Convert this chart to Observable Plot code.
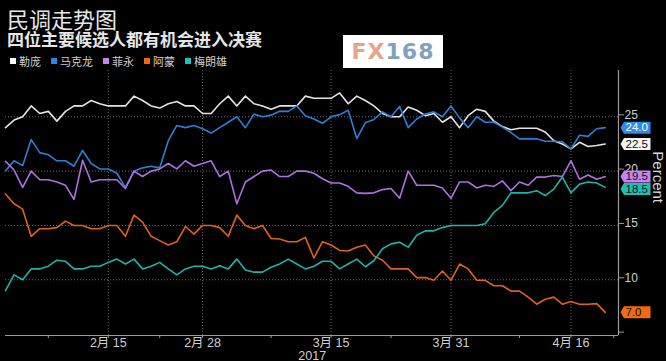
<!DOCTYPE html>
<html>
<head>
<meta charset="utf-8">
<script src="https://cdn.jsdelivr.net/npm/d3@7"></script>
<script src="https://cdn.jsdelivr.net/npm/@observablehq/plot@0.6"></script>
<style>
  html, body { margin: 0; padding: 0; background: #000; }
  #wrap { position: relative; width: 666px; height: 361px; overflow: hidden; background: #000; }
  #header { position: relative; height: 66px; }
  #title { position: absolute; left: 7px; top: 7px; font: 400 22px/22px "Noto Sans CJK SC", sans-serif; color: #e6e6e6; white-space: nowrap; }
  #subtitle { position: absolute; left: 7px; top: 30px; font: 700 17px/17px "Noto Sans CJK SC", sans-serif; color: #e6e6e6; white-space: nowrap; }
  #legend { position: absolute; left: 10px; top: 54px; display: flex; font: 400 11px/14px "Noto Sans CJK SC", sans-serif; color: #cfcfcf; white-space: nowrap; }
  #legend .item { display: flex; align-items: center; margin-right: 10px; }
  #legend .sw { width: 6px; height: 6px; margin-right: 3px; }
  #logo { position: absolute; left: 343px; top: 35px; width: 100px; height: 33px; background: #fff; display: flex; align-items: center; justify-content: center; font: 700 22px/22px "DejaVu Sans", sans-serif; letter-spacing: 1px; }
  #chart svg { display: block; }
</style>
</head>
<body>
<div id="wrap">
  <div id="header">
    <div id="title"></div>
    <div id="subtitle"></div>
    <div id="legend"></div>
    <div id="logo"><span style="color:#e9a58b">FX</span><span style="color:#7fa2c0">168</span></div>
  </div>
  <div id="chart"></div>
</div>
<script>
// ---- text ----
const titleText = "民调走势图";
const subtitleText = "四位主要候选人都有机会进入决赛";
const yLabel = "Percent";

// ---- series (one value per poll, in order) ----
const names = ["勒庞", "马克龙", "菲永", "阿蒙", "梅朗雄"];
const lePen = [24.0,24.7,25.0,26.0,25.3,25.5,24.6,25.5,26.0,26.0,
  26.5,26.2,26.0,26.0,26.0,26.9,26.5,26.0,25.8,26.2,
  26.4,26.0,26.0,25.3,25.3,26.2,26.9,26.0,26.9,26.2,
  26.0,25.7,26.0,26.0,26.0,26.9,26.7,26.7,26.7,27.2,
  26.2,26.9,26.5,26.0,25.3,25.0,25.0,25.9,25.6,25.1,
  25.3,24.5,25.0,24.0,25.1,25.7,25.5,24.6,24.1,23.8,
  23.95,23.95,23.95,23.6,22.8,22.5,22.05,22.65,22.27,22.36,22.5];
const macron = [20.0,20.95,20.5,22.9,21.7,21.5,20.95,20.95,20.45,21.9,
  20.7,20.2,20.2,19.8,18.5,20.0,20.3,20.45,20.3,22.8,
  24.2,24.0,24.2,23.9,23.5,24.0,24.5,25.0,24.0,25.25,
  25.0,25.15,25.5,25.5,26.0,25.1,24.8,24.4,25.0,25.2,
  25.6,23.0,24.45,24.75,25.45,25.0,25.95,24.0,24.8,25.25,
  25.45,25.0,26.0,24.9,24.0,25.0,24.5,24.5,24.05,23.55,
  22.97,22.97,22.97,22.75,22.75,22.7,22.05,23.3,23.2,23.9,24.0];
const fillon = [20.9,20.1,18.5,20.0,19.2,19.2,19.0,18.7,17.4,21.0,
  19.0,19.2,19.2,19.2,18.4,20.0,19.5,20.0,20.2,20.7,
  20.2,20.95,20.45,20.7,20.95,19.5,20.0,17.0,19.0,19.5,
  20.0,20.1,19.5,19.5,20.0,20.0,19.8,19.3,18.9,18.9,
  18.6,18.0,17.95,18.0,18.3,18.4,17.5,20.0,18.7,18.7,
  18.7,18.45,17.5,19.0,19.0,18.45,18.7,18.6,19.1,18.2,
  19.0,18.7,19.45,19.45,19.6,19.5,20.95,19.25,19.65,19.25,19.5];
const hamon = [17.9,17.0,16.5,14.0,14.7,14.7,14.8,15.4,15.0,15.0,
  14.7,14.7,15.0,15.0,14.0,15.95,15.3,14.0,13.6,13.2,
  13.5,14.9,14.2,15.0,15.0,14.8,14.0,15.95,15.0,14.7,
  15.0,13.8,13.75,13.5,13.5,13.9,12.0,13.5,13.2,12.7,
  12.65,13.0,13.2,12.2,11.8,11.0,11.0,11.0,10.2,10.2,
  9.95,10.8,9.95,11.45,11.0,9.95,9.95,9.45,9.45,8.95,
  8.95,8.4,7.75,8.2,8.4,7.75,8.0,7.75,7.75,7.8,7.0];
const melenchon = [9.0,10.45,10.0,11.0,11.0,11.25,11.8,11.7,11.0,11.0,
  11.25,11.25,11.6,11.9,11.45,11.9,11.0,11.25,11.6,11.0,
  10.45,11.0,11.25,11.25,11.0,11.3,11.0,11.9,10.9,10.7,
  10.7,11.15,11.45,11.9,11.45,11.0,11.25,11.7,11.7,11.0,
  11.45,11.9,11.2,11.75,12.85,13.3,13.45,13.0,14.1,14.5,
  14.5,14.8,15.0,15.0,15.0,15.0,15.15,16.2,16.85,18.0,
  18.0,18.0,18.2,17.75,18.35,19.45,18.0,18.8,19.0,18.9,18.5];

// ---- ticks (positions are poll indices) ----
const xTickPos = [12, 23, 38, 52, 66];
const xTickLabels = ["2月 15", "2月 28", "3月 15", "3月 31", "4月 16"];
const xMinorPos = [5, 18, 31, 45, 60, 71];
const yearLabels = ["2017"];
const yearPos = [35.8];
const yTicks = [5, 10, 15, 20, 25];

// ---- styles ----
const lineColors = ["#e4e4e4", "#2d7fd6", "#b06fe2", "#e0611b", "#1fb2aa"];
const legendColors = ["#ffffff", "#2f86e6", "#c383f2", "#f2661a", "#1fc0c0"];
const tagColors = ["#f4f4f4", "#2f8aee", "#c583f4", "#f26a12", "#1fbdb3"];
const tagTextColors = ["#111", "#fff", "#111", "#111", "#111"];

// ---- header ----
document.getElementById("title").textContent = titleText;
document.getElementById("subtitle").textContent = subtitleText;
const legend = document.getElementById("legend");
names.forEach((n, k) => {
  const item = document.createElement("div");
  item.className = "item";
  const sw = document.createElement("div");
  sw.className = "sw";
  sw.style.background = legendColors[k];
  const tx = document.createElement("span");
  tx.textContent = n;
  item.appendChild(sw); item.appendChild(tx);
  legend.appendChild(item);
});

// ---- chart ----
const H = 295, MT = 4, MB = 26, ML = 5, MR = 48;
const xDomain = [0, 71.55];
const yDomain = [4.87, 29.26];
const allValues = [lePen, macron, fillon, hamon, melenchon];
const series = names.map((name, k) => ({name, values: allValues[k], color: lineColors[k], tag: tagColors[k], tagText: tagTextColors[k]}));

const pxPerUnit = (H - MT - MB) / (yDomain[1] - yDomain[0]);
const TAG_H = 12.5;
const tags = series.map(s => ({name: s.name, value: s.values[s.values.length - 1], tag: s.tag, tagText: s.tagText}))
  .sort((a, b) => b.value - a.value);
let prev = Infinity;
for (const t of tags) {
  const py = t.value * pxPerUnit;
  const pos = Math.min(py, prev - TAG_H);
  t.dy = py - pos;
  prev = pos;
}

const tagShape = {
  draw(ctx) {
    ctx.moveTo(0, 0);
    ctx.lineTo(3.5, -6);
    ctx.lineTo(30, -6);
    ctx.lineTo(30, 6);
    ctx.lineTo(3.5, 6);
    ctx.closePath();
  }
};

const tickMap = new Map(xTickPos.map((p, i) => [p, xTickLabels[i]]));
const xEnd = xDomain[1];
const yearData = yearLabels.map((label, i) => ({label, pos: yearPos[i]}));

const chart = Plot.plot({
  width: 666,
  height: H,
  marginTop: MT,
  marginBottom: MB,
  marginLeft: ML,
  marginRight: MR,
  style: {background: "#000", color: "#cfcfcf", fontFamily: "'Liberation Sans', 'Noto Sans CJK SC', sans-serif", overflow: "visible"},
  x: {domain: xDomain, axis: null},
  y: {domain: yDomain, axis: null},
  marks: [
    Plot.gridY(yTicks.filter(d => d !== 5), {stroke: "#6a6a6a", strokeOpacity: 1, strokeDasharray: "1,2"}),
    Plot.gridX(xTickPos, {stroke: "#6a6a6a", strokeOpacity: 1, strokeDasharray: "1,2"}),
    Plot.ruleY([yDomain[0]], {stroke: "#9a9a9a", strokeWidth: 1.2}),
    Plot.ruleX([xDomain[1]], {stroke: "#9a9a9a", strokeWidth: 1.2}),
    Plot.axisX([...xTickPos, ...xMinorPos], {
      tickFormat: d => tickMap.get(d) ?? "",
      tickSize: 3, tickPadding: 0, fontSize: 12.5, stroke: "#9a9a9a", fill: "#cfcfcf", label: null
    }),
    Plot.text(yearData, {x: "pos", text: "label", frameAnchor: "bottom", dy: 24, fontSize: 12.5, fill: "#cfcfcf"}),
    Plot.axisY(yTicks, {
      anchor: "right", tickSize: 5, tickPadding: 1, fontSize: 12,
      tickFormat: d => d === 5 ? "" : String(d), stroke: "#9a9a9a", fill: "#cfcfcf", label: null, dy: -2
    }),
    Plot.text([yLabel], {frameAnchor: "right", dx: 39, rotate: 90, fontSize: 15, fill: "#d8d8d8"}),
    ...series.map(s => Plot.lineY(s.values, {x: (d, i) => i, y: d => d, stroke: s.color, strokeWidth: 1.6})),
    ...tags.flatMap(t => [
      Plot.dot([t], {x: () => xEnd, y: "value", symbol: tagShape, r: 1, fill: t.tag, stroke: null, dx: 2, dy: t.dy}),
      Plot.text([t], {x: () => xEnd, y: "value", text: d => d.value.toFixed(1), fill: t.tagText, dx: 7, dy: t.dy, textAnchor: "start", fontSize: 11.5})
    ])
  ]
});
document.getElementById("chart").appendChild(chart);
</script>
</body>
</html>
